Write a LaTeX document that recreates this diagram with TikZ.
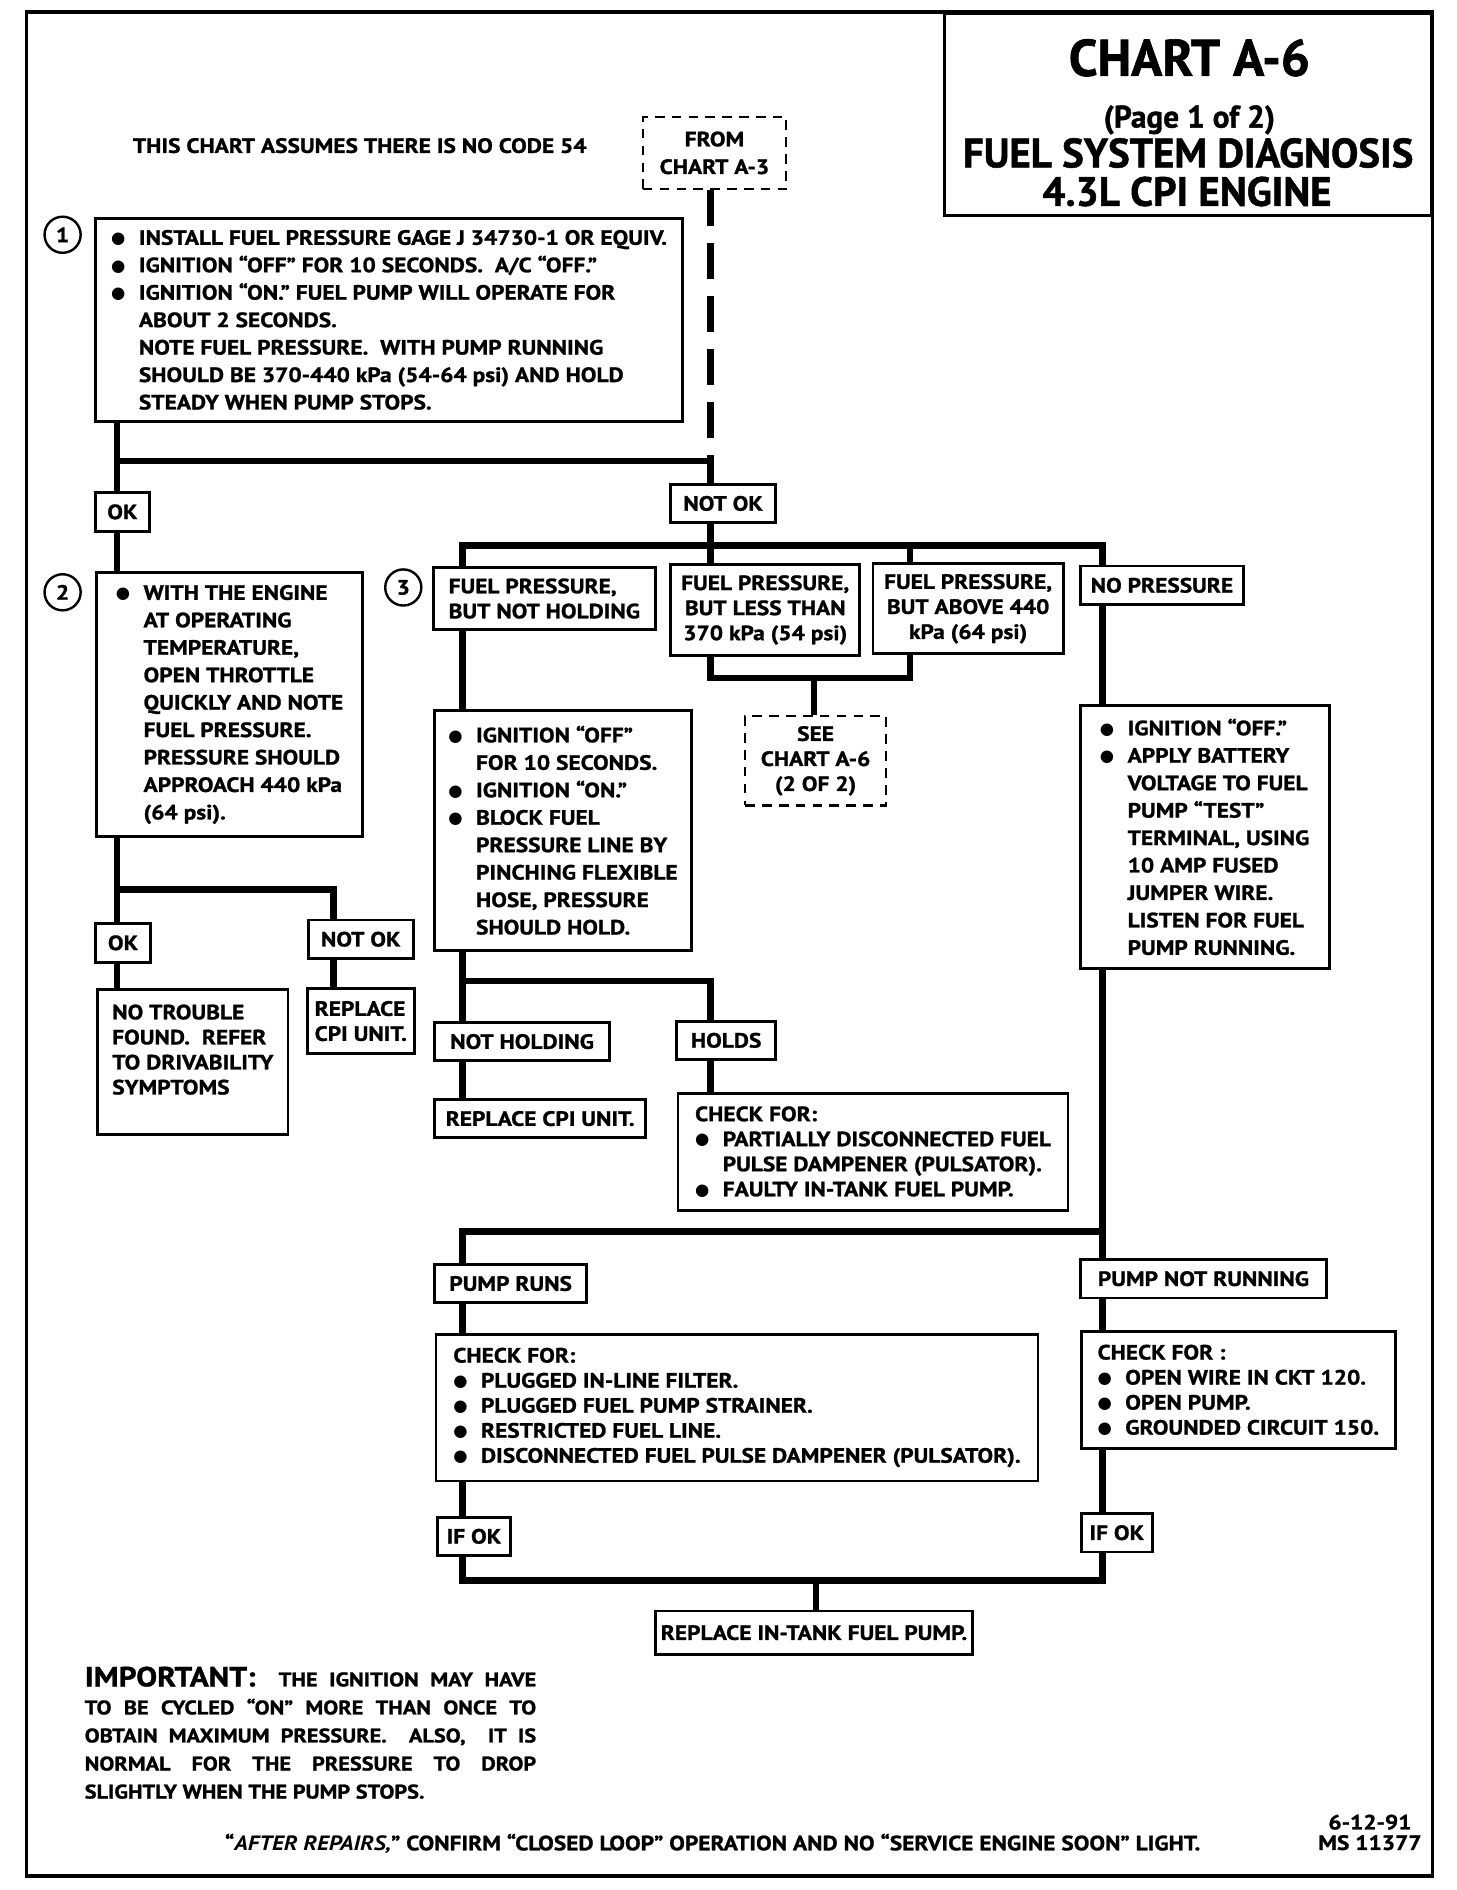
\documentclass[tikz,border=0pt]{standalone}
\usepackage{fontspec}
\setmainfont[FakeStretch=1.13,BoldFeatures={FakeBold=1.2}]{PT Sans}
\newfontfamily\titlefont[BoldFeatures={FakeBold=1.2}]{PT Sans}
\newfontfamily\symfont{DejaVu Sans}
\usepackage{tikz}
\newcommand{\bul}{\makebox[11.5pt][l]{\raisebox{0.5pt}{\symfont\fontsize{6.8}{7}\selectfont ●}}}
\newcommand{\skipbul}{\hspace*{11.5pt}}
\newcommand{\stepfont}{\fontsize{8.6}{11.4}\selectfont\bfseries}
\newcommand{\notefont}{\fontsize{8.6}{10.4}\selectfont\bfseries}

\begin{document}
\begin{tikzpicture}[x=0.5pt,y=-0.5pt,
  box/.style={draw,line width=1.2pt,anchor=north west,inner sep=0pt,align=left,font=\notefont},
  stepbox/.style={box,font=\stepfont},
  tag/.style={box,align=center,minimum height=16pt},
  dbox/.style={draw,line width=1pt,dash pattern=on 4pt off 3pt,anchor=north west,inner sep=0pt,align=center,font=\notefont},
  num/.style={draw,circle,line width=1pt,minimum size=15pt,inner sep=0pt,font=\stepfont},
  link/.style={line width=2.7pt},
  txt/.style={font=\stepfont,inner sep=0pt}]
\useasboundingbox (0,0) rectangle (1210,1570);
\draw[line width=1.6pt] (22,10) rectangle (1190,1558);

\node[draw,line width=1.2pt,anchor=north east,minimum width=202pt,minimum height=84pt,inner sep=0pt] (title) at (1190,10) {};
\node[anchor=base,inner sep=0pt,font=\titlefont\fontsize{21.4}{24}\selectfont\bfseries] (t1) at (988,63) {CHART A-6};
\node[anchor=base,inner sep=0pt,font=\titlefont\fontsize{13}{15}\selectfont\bfseries] (t2) at (988,106) {(Page 1 of 2)};
\node[anchor=base,inner sep=0pt,font=\titlefont\fontsize{17}{19}\selectfont\bfseries] (t3) at (987,139) {FUEL SYSTEM DIAGNOSIS};
\node[anchor=base,inner sep=0pt,font=\titlefont\fontsize{17}{19}\selectfont\bfseries] (t4) at (986,171) {4.3L CPI ENGINE};

\node[txt,anchor=base west] (assume) at (110,127) {THIS CHART ASSUMES THERE IS NO CODE 54};
\node[dbox,minimum width=59.5pt,minimum height=30pt,font=\fontsize{8.6}{11.5}\selectfont\bfseries] (from) at (533,96) {FROM\\CHART A-3};

\node[num] (n1) at (52,195) {1};
\node[num] (n2) at (52,492) {2};
\node[num] (n3) at (335,488) {3};

\node[stepbox,minimum width=244pt,minimum height=84.5pt] (b1) at (78,180)
  {\bul INSTALL FUEL PRESSURE GAGE J 34730-1 OR EQUIV.\\
   \bul IGNITION “OFF” FOR 10 SECONDS.\ \ A/C “OFF.”\\
   \bul IGNITION “ON.” FUEL PUMP WILL OPERATE FOR\\
   \skipbul ABOUT 2 SECONDS.\\
   \skipbul NOTE FUEL PRESSURE.\ \ WITH PUMP RUNNING\\
   \skipbul SHOULD BE 370-440 kPa (54-64 psi) AND HOLD\\
   \skipbul STEADY WHEN PUMP STOPS.};
\node[tag,minimum width=22.5pt] (ok1) at (78,408) {OK};
\node[tag,minimum width=43.5pt] (notok) at (556,401) {NOT OK};

\node[stepbox,minimum width=110.5pt,minimum height=110pt] (b2) at (79,474)
  {\bul WITH THE ENGINE\\
   \skipbul AT OPERATING\\
   \skipbul TEMPERATURE,\\
   \skipbul OPEN THROTTLE\\
   \skipbul QUICKLY AND NOTE\\
   \skipbul FUEL PRESSURE.\\
   \skipbul PRESSURE SHOULD\\
   \skipbul APPROACH 440 kPa\\
   \skipbul (64 psi).};
\node[tag,minimum width=23pt] (ok2) at (78,766) {OK};
\node[tag,minimum width=43.5pt] (notok2) at (255,763) {NOT OK};
\node[box,minimum width=79pt,minimum height=60pt] (notrb) at (80,821)
  {NO TROUBLE\\FOUND.\ \ REFER\\TO DRIVABILITY\\SYMPTOMS\\ \mbox{}};
\node[box,minimum width=44.5pt,minimum height=27pt] (repcpi2) at (254,820) {REPLACE\\CPI UNIT.};

\node[box,minimum width=92pt,minimum height=26pt] (fp1) at (359,470) {FUEL PRESSURE,\\BUT NOT HOLDING};
\node[box,align=center,minimum width=78.5pt,minimum height=37.5pt] (fp2) at (556,468) {FUEL PRESSURE,\\BUT LESS THAN\\370 kPa (54 psi)};
\node[box,align=center,minimum width=79pt,minimum height=37.5pt] (fp3) at (724,467) {FUEL PRESSURE,\\BUT ABOVE 440\\kPa (64 psi)};
\node[tag,minimum width=68pt] (nopr) at (896,469) {NO PRESSURE};
\node[dbox,minimum width=58.5pt,minimum height=37pt] (see) at (618,594) {SEE\\CHART A-6\\(2 OF 2)};

\node[stepbox,minimum width=106.5pt,minimum height=99.5pt] (b3) at (360,589)
  {\bul IGNITION “OFF”\\
   \skipbul FOR 10 SECONDS.\\
   \bul IGNITION “ON.”\\
   \bul BLOCK FUEL\\
   \skipbul PRESSURE LINE BY\\
   \skipbul PINCHING FLEXIBLE\\
   \skipbul HOSE, PRESSURE\\
   \skipbul SHOULD HOLD.};
\node[tag,minimum width=72.5pt] (nothold) at (360,848) {NOT HOLDING};
\node[tag,minimum width=41pt] (holds) at (561,847) {HOLDS};
\node[tag,minimum width=87.5pt] (repcpi) at (360,912) {REPLACE CPI UNIT.};
\node[box,minimum width=162pt,minimum height=48.5pt] (chkhold) at (562,907)
  {CHECK FOR:\\
   \bul PARTIALLY DISCONNECTED FUEL\\
   \skipbul PULSE DAMPENER (PULSATOR).\\
   \bul FAULTY IN-TANK FUEL PUMP.};

\node[stepbox,minimum width=103.5pt,minimum height=109pt] (b4) at (896,585)
  {\bul IGNITION “OFF.”\\
   \bul APPLY BATTERY\\
   \skipbul VOLTAGE TO FUEL\\
   \skipbul PUMP “TEST”\\
   \skipbul TERMINAL, USING\\
   \skipbul 10 AMP FUSED\\
   \skipbul JUMPER WIRE.\\
   \skipbul LISTEN FOR FUEL\\
   \skipbul PUMP RUNNING.};

\node[tag,minimum width=63pt] (pumpruns) at (360,1049) {PUMP RUNS};
\node[tag,minimum width=102.5pt] (pumpno) at (896,1045) {PUMP NOT RUNNING};
\node[box,minimum width=250pt,minimum height=61pt] (chkrun) at (361,1107)
  {CHECK FOR:\\
   \bul PLUGGED IN-LINE FILTER.\\
   \bul PLUGGED FUEL PUMP STRAINER.\\
   \bul RESTRICTED FUEL LINE.\\
   \bul DISCONNECTED FUEL PULSE DAMPENER (PULSATOR).};
\node[box,minimum width=130.5pt,minimum height=48.5pt] (chkno) at (897,1105)
  {CHECK FOR :\\
   \bul OPEN WIRE IN CKT 120.\\
   \bul OPEN PUMP.\\
   \bul GROUNDED CIRCUIT 150.};
\node[tag,minimum width=30.5pt] (ifok1) at (362,1259) {IF OK};
\node[tag,minimum width=29.5pt] (ifok2) at (897,1256) {IF OK};
\node[tag,minimum width=132pt,minimum height=18pt] (tank) at (543,1337) {REPLACE IN-TANK FUEL PUMP.};

\node[anchor=north west,inner sep=0pt,text width=187.5pt,align=justify,font=\fontsize{8.2}{11.65}\selectfont\bfseries] (imp) at (70,1384)
  {{\fontsize{11.5}{11.65}\selectfont IMPORTANT:}\ \ THE IGNITION MAY HAVE\linebreak
   TO BE CYCLED “ON” MORE THAN ONCE TO\linebreak
   OBTAIN MAXIMUM PRESSURE.\ \ ALSO,\ \ IT IS\linebreak
   NORMAL FOR THE PRESSURE TO DROP\linebreak
   SLIGHTLY WHEN THE PUMP STOPS.};
\node[txt,anchor=base] (after) at (592,1537) {“\textit{AFTER REPAIRS,}” CONFIRM “CLOSED LOOP” OPERATION AND NO “SERVICE ENGINE SOON” LIGHT.};
\node[anchor=north,inner sep=0pt,align=center,font=\fontsize{8.6}{8.5}\selectfont\bfseries] (date) at (1138,1507) {6-12-91\\MS 11377};

\coordinate (cA) at (97,0);
\coordinate (cB) at (277,0);
\coordinate (cC) at (384,0);
\coordinate (cD) at (590,0);
\coordinate (cE) at (756,0);
\coordinate (cF) at (676,0);
\coordinate (cG) at (916,0);
\coordinate (cH) at (678,0);
\coordinate (j1) at (0,383);
\coordinate (j2) at (0,453);
\coordinate (j3) at (0,563);
\coordinate (j4) at (0,739);
\coordinate (j5) at (0,815);
\coordinate (j6) at (0,1023);
\coordinate (j7) at (0,1313);

\draw[link,dash pattern=on 15pt off 7pt] (from.south -| cD) -- (cD |- j1);
\draw[link] (cA |- j1) -- (cD |- j1) -- (notok.north -| cD);
\draw[link] (b1.south -| cA) -- (ok1.north -| cA);
\draw[link] (ok1.south -| cA) -- (b2.north -| cA);
\draw[link] (b2.south -| cA) -- (ok2.north -| cA);
\draw[link] (cA |- j4) -- (cB |- j4) -- (notok2.north -| cB);
\draw[link] (ok2.south -| cA) -- (notrb.north -| cA);
\draw[link] (notok2.south -| cB) -- (repcpi2.north -| cB);
\draw[link] (notok.south -| cD) -- (fp2.north -| cD);
\draw[link] (fp1.north -| cC) -- (cC |- j2) -- (cG |- j2) -- (nopr.north -| cG);
\draw[link] (cE |- j2) -- (fp3.north -| cE);
\draw[link] (fp2.south -| cD) -- (cD |- j3) -- (cE |- j3) -- (fp3.south -| cE);
\draw[link] (cF |- j3) -- (see.north -| cF);
\draw[link] (fp1.south -| cC) -- (b3.north -| cC);
\draw[link] (b3.south -| cC) -- (nothold.north -| cC);
\draw[link] (cC |- j5) -- (cD |- j5) -- (holds.north -| cD);
\draw[link] (nothold.south -| cC) -- (repcpi.north -| cC);
\draw[link] (holds.south -| cD) -- (chkhold.north -| cD);
\draw[link] (nopr.south -| cG) -- (b4.north -| cG);
\draw[link] (b4.south -| cG) -- (pumpno.north -| cG);
\draw[link] (cG |- j6) -- (cC |- j6) -- (pumpruns.north -| cC);
\draw[link] (pumpruns.south -| cC) -- (chkrun.north -| cC);
\draw[link] (chkrun.south -| cC) -- (ifok1.north -| cC);
\draw[link] (pumpno.south -| cG) -- (chkno.north -| cG);
\draw[link] (chkno.south -| cG) -- (ifok2.north -| cG);
\draw[link] (ifok1.south -| cC) -- (cC |- j7) -- (cG |- j7) -- (ifok2.south -| cG);
\draw[link] (cH |- j7) -- (tank.north -| cH);
\end{tikzpicture}
\end{document}
